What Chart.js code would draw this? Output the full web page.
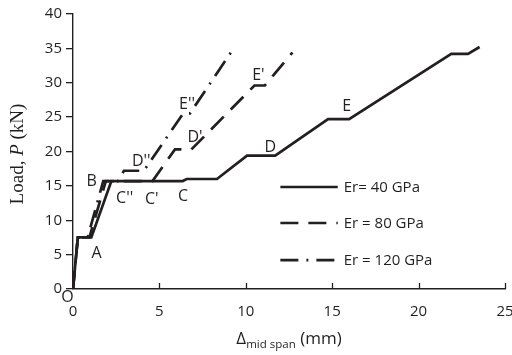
<!DOCTYPE html>
<html>
<head>
<meta charset="utf-8">
<script src="https://cdn.jsdelivr.net/npm/chart.js@4/dist/chart.umd.min.js"></script>
<style>
  html, body { margin: 0; padding: 0; background: #fff; }
  #wrap { width: 512px; height: 355px; }
</style>
</head>
<body>
<div id="wrap"><canvas id="grafica" width="512" height="355"></canvas></div>
<script>
// datos
const seriesNames = ['Er= 40 GPa', 'Er = 80 GPa', 'Er = 120 GPa']
const er40X = [0, 0.28, 1.06, 2.22, 6.35, 6.58, 8.33, 10.07, 11.7, 14.76, 15.98, 21.89, 22.86, 23.53]
const er40Y = [0, 7.5, 7.5, 15.7, 15.7, 16.0, 16.0, 19.4, 19.4, 24.7, 24.7, 34.2, 34.2, 35.2]
const er80X = [0, 0.28, 0.95, 1.9, 4.6, 5.9, 6.85, 10.5, 11.1, 12.7]
const er80Y = [0, 7.5, 7.5, 15.7, 15.7, 20.3, 20.3, 29.6, 29.6, 34.4]
const er120X = [0, 0.28, 0.85, 1.75, 2.6, 2.95, 4.1, 6.38, 6.77, 9.35]
const er120Y = [0, 7.5, 7.5, 15.7, 15.7, 17.2, 17.2, 25.55, 25.55, 35.2]

const xTicks = [0, 5, 10, 15, 20, 25]
const yTicks = [0, 5, 10, 15, 20, 25, 30, 35, 40]

// etiquetas de puntos (texto, x, y)
const ptText = ['O', 'A', 'B', "C''", "C'", 'C', "D''", "D'", 'D', "E''", "E'", 'E']
const ptX = [-0.32, 1.37, 1.08, 2.99, 4.56, 6.37, 3.95, 7.06, 11.42, 6.6, 10.73, 15.84]
const ptY = [-1.16, 5.24, 15.7, 13.2, 13.1, 13.5, 18.5, 22.0, 20.65, 26.8, 31.1, 26.5]

const ink = '#231f20'
const sans = '"Open Sans", "Noto Sans", sans-serif'
const dashes = [[], [18, 10], [18, 8, 2, 8]]

const toPoints = (xs, ys) => xs.map((x, i) => ({ x: x, y: ys[i] }))

const datasets = [
    { label: seriesNames[0], data: toPoints(er40X, er40Y) },
    { label: seriesNames[1], data: toPoints(er80X, er80Y) },
    { label: seriesNames[2], data: toPoints(er120X, er120Y) }
].map((d, i) => ({
    ...d,
    showLine: true,
    borderColor: ink,
    borderWidth: 2.7,
    borderDash: dashes[i],
    pointRadius: 0,
    tension: 0,
    fill: false
}))

// textos, leyenda y marcas del eje x
const extras = {
    id: 'extras',
    afterDraw(chart) {
        const ctx = chart.ctx
        const xs = chart.scales.x
        const ys = chart.scales.y
        const area = chart.chartArea
        ctx.save()

        // marcas del eje x hacia adentro
        ctx.strokeStyle = ink
        ctx.lineWidth = 1.3
        xTicks.forEach(v => {
            const px = Math.round(xs.getPixelForValue(v)) + 0.5
            ctx.beginPath()
            ctx.moveTo(px, area.bottom)
            ctx.lineTo(px, area.bottom - 6)
            ctx.stroke()
        })

        // letras de los puntos
        ctx.fillStyle = ink
        ctx.font = '16px ' + sans
        ctx.textAlign = 'center'
        ctx.textBaseline = 'middle'
        ptText.forEach((t, i) => {
            ctx.fillText(t, xs.getPixelForValue(ptX[i]), ys.getPixelForValue(ptY[i]))
        })

        // leyenda
        const legY = [14.84, 9.6, 4.2]
        ctx.lineWidth = 2.7
        ctx.textAlign = 'left'
        ctx.font = '15px ' + sans
        legY.forEach((v, i) => {
            const py = ys.getPixelForValue(v)
            const x0 = xs.getPixelForValue(12.0)
            const x1 = xs.getPixelForValue(15.32)
            ctx.setLineDash(dashes[i])
            ctx.beginPath()
            ctx.moveTo(x0, py)
            ctx.lineTo(x1, py)
            ctx.stroke()
            ctx.setLineDash([])
            ctx.fillText(seriesNames[i], x1 + 6, py + 1)
        })

        // titulo eje x
        const cx = (area.left + area.right) / 2
        const ty = 344
        ctx.textBaseline = 'alphabetic'
        const p1 = 'Δ', p2 = 'mid span', p3 = ' (mm)'
        ctx.font = '17px ' + sans
        const w1 = ctx.measureText(p1).width
        const w3 = ctx.measureText(p3).width
        ctx.font = '11.5px ' + sans
        const w2 = ctx.measureText(p2).width
        const sx = cx - (w1 + w2 + w3) / 2
        ctx.font = '17px ' + sans
        ctx.fillText(p1, sx, ty)
        ctx.font = '11.5px ' + sans
        ctx.fillText(p2, sx + w1, ty + 4)
        ctx.font = '17px ' + sans
        ctx.fillText(p3, sx + w1 + w2, ty)

        // titulo eje y
        ctx.translate(23, 154)
        ctx.rotate(-Math.PI / 2)
        const serif = '"Liberation Serif", "DejaVu Serif", serif'
        const a = 'Load, ', b = 'P', c = ' (kN)'
        ctx.font = '19px ' + serif
        const wa = ctx.measureText(a).width
        const wc = ctx.measureText(c).width
        ctx.font = 'italic 19px ' + serif
        const wb = ctx.measureText(b).width
        const st = -(wa + wb + wc) / 2
        ctx.font = '19px ' + serif
        ctx.fillText(a, st, 0)
        ctx.font = 'italic 19px ' + serif
        ctx.fillText(b, st + wa, 0)
        ctx.font = '19px ' + serif
        ctx.fillText(c, st + wa + wb, 0)

        ctx.restore()
    }
}

const config = {
    type: 'scatter',
    data: { datasets },
    options: {
        responsive: false,
        animation: false,
        layout: { padding: { top: 14, right: 7, left: 0, bottom: 0 } },
        plugins: { legend: { display: false }, tooltip: { enabled: false } },
        scales: {
            x: {
                type: 'linear',
                min: xTicks[0],
                max: xTicks[xTicks.length - 1],
                afterBuildTicks: s => { s.ticks = xTicks.map(v => ({ value: v })) },
                afterFit: s => { s.height = 66; s.paddingLeft = 0; s.paddingRight = 0 },
                border: { color: ink, width: 1.4 },
                grid: { drawOnChartArea: false, drawTicks: false },
                ticks: { color: ink, font: { family: sans, size: 15 }, padding: 14, maxRotation: 0 }
            },
            y: {
                type: 'linear',
                min: yTicks[0],
                max: yTicks[yTicks.length - 1],
                afterBuildTicks: s => { s.ticks = yTicks.map(v => ({ value: v })) },
                afterFit: s => { s.width = 73; s.paddingTop = 0; s.paddingBottom = 0 },
                border: { color: ink, width: 1.4 },
                grid: { drawOnChartArea: false, drawTicks: true, tickLength: 7, color: ink, lineWidth: 1.3 },
                ticks: { color: ink, font: { family: sans, size: 15 }, padding: 4 }
            }
        }
    },
    plugins: [extras]
}

const myChart = new Chart(document.getElementById('grafica'), config)
</script>
</body>
</html>
